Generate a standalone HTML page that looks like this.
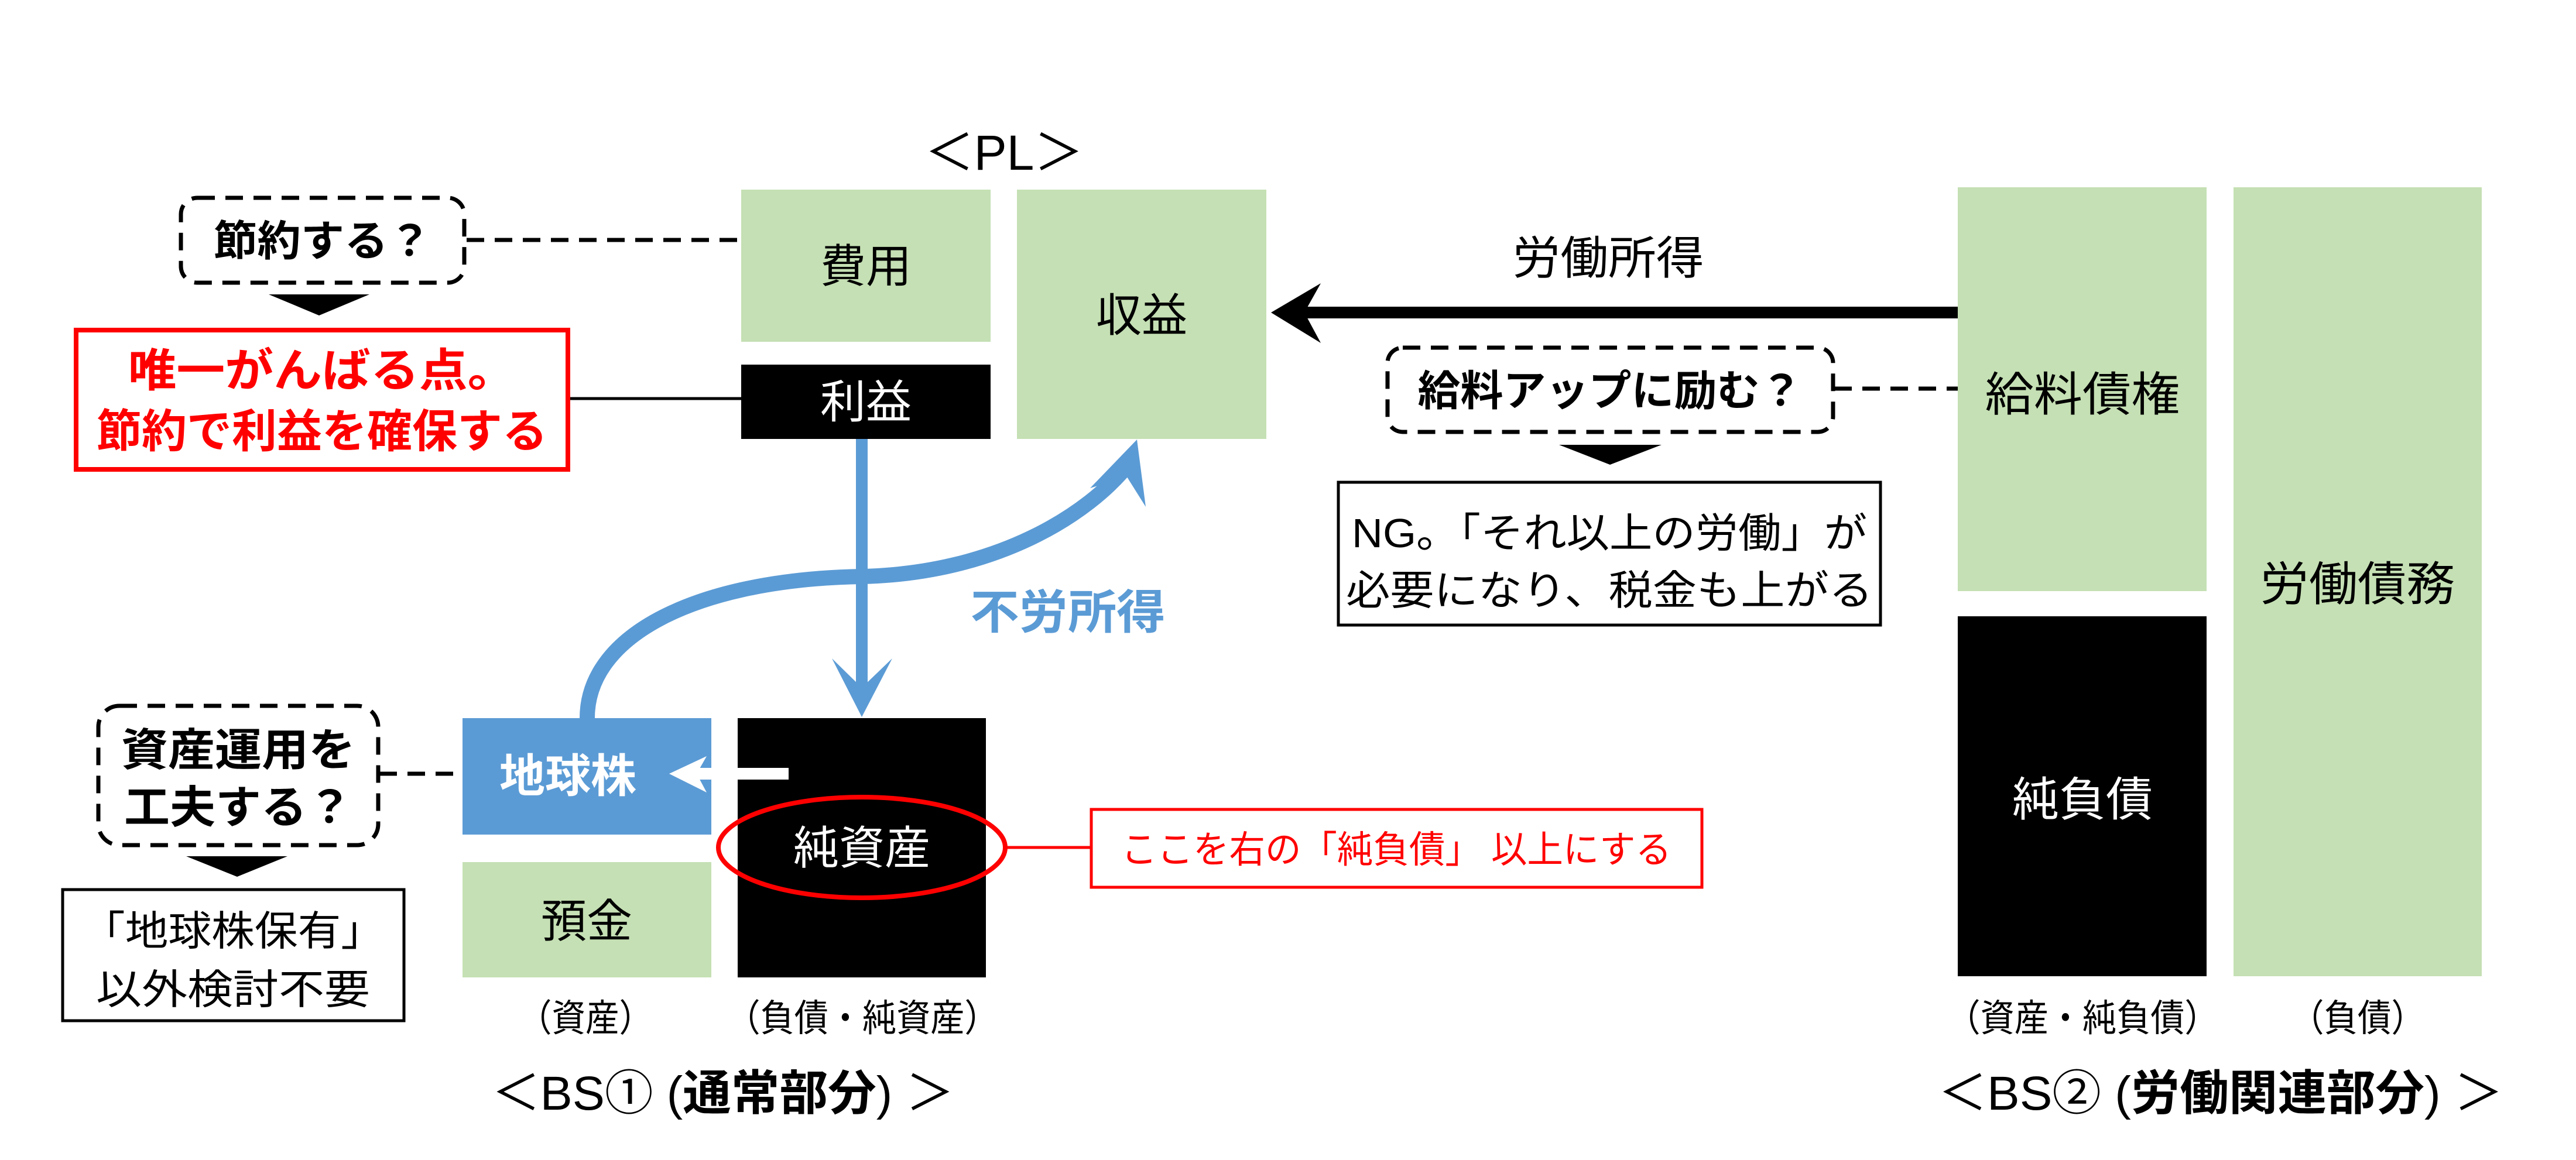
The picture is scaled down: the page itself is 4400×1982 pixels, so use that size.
<!DOCTYPE html>
<html><head><meta charset="utf-8">
<style>
html,body{margin:0;padding:0;background:#fff;}
svg{display:block;}
text{font-family:"Liberation Sans","Noto Sans CJK JP",sans-serif;}
</style></head>
<body>
<svg width="4400" height="1982" viewBox="0 0 4400 1982" xmlns="http://www.w3.org/2000/svg">
<rect width="4400" height="1982" fill="#fff"/>
<!-- PL -->
<text x="1715" y="290" font-size="84" text-anchor="middle">＜PL＞</text>
<rect x="1266" y="324" width="426" height="260" fill="#c5e0b4"/>
<text x="1479" y="482" font-size="78" text-anchor="middle">費用</text>
<rect x="1266" y="623" width="426" height="127" fill="#000"/>
<text x="1479" y="714" font-size="78" text-anchor="middle" fill="#fff">利益</text>
<rect x="1737" y="324" width="426" height="426" fill="#c5e0b4"/>
<text x="1950" y="566" font-size="78" text-anchor="middle">収益</text>

<!-- 節約する？ -->
<rect x="309" y="338" width="484" height="145" rx="28" fill="none" stroke="#000" stroke-width="7" stroke-dasharray="30 18"/>
<text x="551" y="437" font-size="72" font-weight="bold" text-anchor="middle" textLength="372" lengthAdjust="spacingAndGlyphs">節約する？</text>
<line x1="797" y1="410" x2="1266" y2="410" stroke="#000" stroke-width="7" stroke-dasharray="30 18"/>
<polygon points="459,503 631,503 545,539" fill="#000"/>
<rect x="130" y="564" width="840" height="238" fill="#fff" stroke="#f00" stroke-width="8"/>
<text x="550" y="660" font-size="78" font-weight="bold" text-anchor="middle" fill="#f00" textLength="663" lengthAdjust="spacingAndGlyphs">唯一がんばる点。</text>
<text x="550" y="764" font-size="78" font-weight="bold" text-anchor="middle" fill="#f00" textLength="770" lengthAdjust="spacingAndGlyphs">節約で利益を確保する</text>
<line x1="974" y1="681" x2="1266" y2="681" stroke="#000" stroke-width="5"/>

<!-- blue vertical arrow -->
<line x1="1472" y1="750" x2="1472" y2="1180" stroke="#5b9bd5" stroke-width="20"/>
<polygon points="1421,1125 1472,1225 1524,1125 1472,1175" fill="#5b9bd5"/>
<!-- curved arrow -->
<path d="M1003,1227 C1003,1085 1190,990 1472,985 C1700,980 1860,880 1930,790" fill="none" stroke="#5b9bd5" stroke-width="26"/>
<polygon points="1942,751 1957,866 1925,815 1862,834" fill="#5b9bd5"/>
<text x="1824" y="1074" font-size="80" font-weight="bold" text-anchor="middle" fill="#5b9bd5" textLength="333" lengthAdjust="spacingAndGlyphs">不労所得</text>

<!-- BS1 -->
<rect x="790" y="1227" width="425" height="199" fill="#5b9bd5"/>
<text x="970" y="1353" font-size="78" font-weight="bold" text-anchor="middle" fill="#fff">地球株</text>
<rect x="790" y="1473" width="425" height="197" fill="#c5e0b4"/>
<text x="1002" y="1601" font-size="78" text-anchor="middle">預金</text>
<rect x="1260" y="1227" width="424" height="443" fill="#000"/>
<line x1="1347" y1="1322" x2="1190" y2="1322" stroke="#fff" stroke-width="20"/>
<polygon points="1143,1322 1207,1292 1190,1322 1207,1354" fill="#fff"/>
<text x="1472" y="1476" font-size="78" text-anchor="middle" fill="#fff">純資産</text>
<ellipse cx="1472" cy="1448" rx="245" ry="86" fill="none" stroke="#f00" stroke-width="8"/>
<line x1="1717" y1="1448" x2="1862" y2="1448" stroke="#f00" stroke-width="5"/>
<rect x="1864" y="1383" width="1043" height="133" fill="#fff" stroke="#f00" stroke-width="5"/>
<text x="2385" y="1474" font-size="64" text-anchor="middle" fill="#f00" textLength="940" lengthAdjust="spacingAndGlyphs">ここを右の「純負債」 以上にする</text>

<text x="1000" y="1762" font-size="64" text-anchor="middle" textLength="230" lengthAdjust="spacingAndGlyphs">（資産）</text>
<text x="1473" y="1762" font-size="64" text-anchor="middle" textLength="465" lengthAdjust="spacingAndGlyphs">（負債・純資産）</text>
<text x="1235" y="1896" font-size="82" text-anchor="middle" textLength="790" lengthAdjust="spacingAndGlyphs">＜BS① (<tspan font-weight="bold">通常部分</tspan>) ＞</text>

<!-- 資産運用 -->
<rect x="168" y="1206" width="478" height="238" rx="36" fill="none" stroke="#000" stroke-width="7" stroke-dasharray="30 18"/>
<text x="407" y="1308" font-size="76" font-weight="bold" text-anchor="middle" textLength="400" lengthAdjust="spacingAndGlyphs">資産運用を</text>
<text x="407" y="1406" font-size="76" font-weight="bold" text-anchor="middle" textLength="390" lengthAdjust="spacingAndGlyphs">工夫する？</text>
<line x1="648" y1="1322" x2="790" y2="1322" stroke="#000" stroke-width="7" stroke-dasharray="30 18"/>
<polygon points="318,1463 491,1463 405,1498" fill="#000"/>
<rect x="107" y="1520" width="583" height="224" fill="#fff" stroke="#000" stroke-width="5"/>
<text x="398" y="1615" font-size="70" text-anchor="middle" textLength="516" lengthAdjust="spacingAndGlyphs">「地球株保有」</text>
<text x="398" y="1715" font-size="70" text-anchor="middle" textLength="468" lengthAdjust="spacingAndGlyphs">以外検討不要</text>

<!-- 労働所得 arrow -->
<text x="2747" y="468" font-size="78" text-anchor="middle" textLength="327" lengthAdjust="spacingAndGlyphs">労働所得</text>
<line x1="3344" y1="534" x2="2220" y2="534" stroke="#000" stroke-width="20"/>
<polygon points="2171,534 2256,484 2228,534 2256,586" fill="#000"/>
<rect x="2370" y="594" width="761" height="144" rx="26" fill="none" stroke="#000" stroke-width="7" stroke-dasharray="30 18"/>
<text x="2750" y="693" font-size="72" font-weight="bold" text-anchor="middle" textLength="657" lengthAdjust="spacingAndGlyphs">給料アップに励む？</text>
<line x1="3133" y1="664" x2="3344" y2="664" stroke="#000" stroke-width="7" stroke-dasharray="30 18"/>
<polygon points="2663,760 2838,760 2750,794" fill="#000"/>
<rect x="2286" y="824" width="926" height="244" fill="#fff" stroke="#000" stroke-width="5"/>
<text x="2749" y="935" font-size="70" text-anchor="middle" textLength="880" lengthAdjust="spacingAndGlyphs">NG。「それ以上の労働」が</text>
<text x="2749" y="1033" font-size="70" text-anchor="middle" textLength="900" lengthAdjust="spacingAndGlyphs">必要になり、税金も上がる</text>

<!-- BS2 -->
<rect x="3344" y="320" width="425" height="690" fill="#c5e0b4"/>
<text x="3557" y="702" font-size="80" text-anchor="middle" textLength="333" lengthAdjust="spacingAndGlyphs">給料債権</text>
<rect x="3344" y="1053" width="425" height="615" fill="#000"/>
<text x="3557" y="1394" font-size="80" text-anchor="middle" fill="#fff">純負債</text>
<rect x="3815" y="320" width="424" height="1348" fill="#c5e0b4"/>
<text x="4027" y="1026" font-size="80" text-anchor="middle" textLength="333" lengthAdjust="spacingAndGlyphs">労働債務</text>
<text x="3557" y="1762" font-size="64" text-anchor="middle" textLength="465" lengthAdjust="spacingAndGlyphs">（資産・純負債）</text>
<text x="4027" y="1762" font-size="64" text-anchor="middle" textLength="230" lengthAdjust="spacingAndGlyphs">（負債）</text>
<text x="3793" y="1896" font-size="82" text-anchor="middle" textLength="965" lengthAdjust="spacingAndGlyphs">＜BS② (<tspan font-weight="bold">労働関連部分</tspan>) ＞</text>
</svg>
</body></html>
